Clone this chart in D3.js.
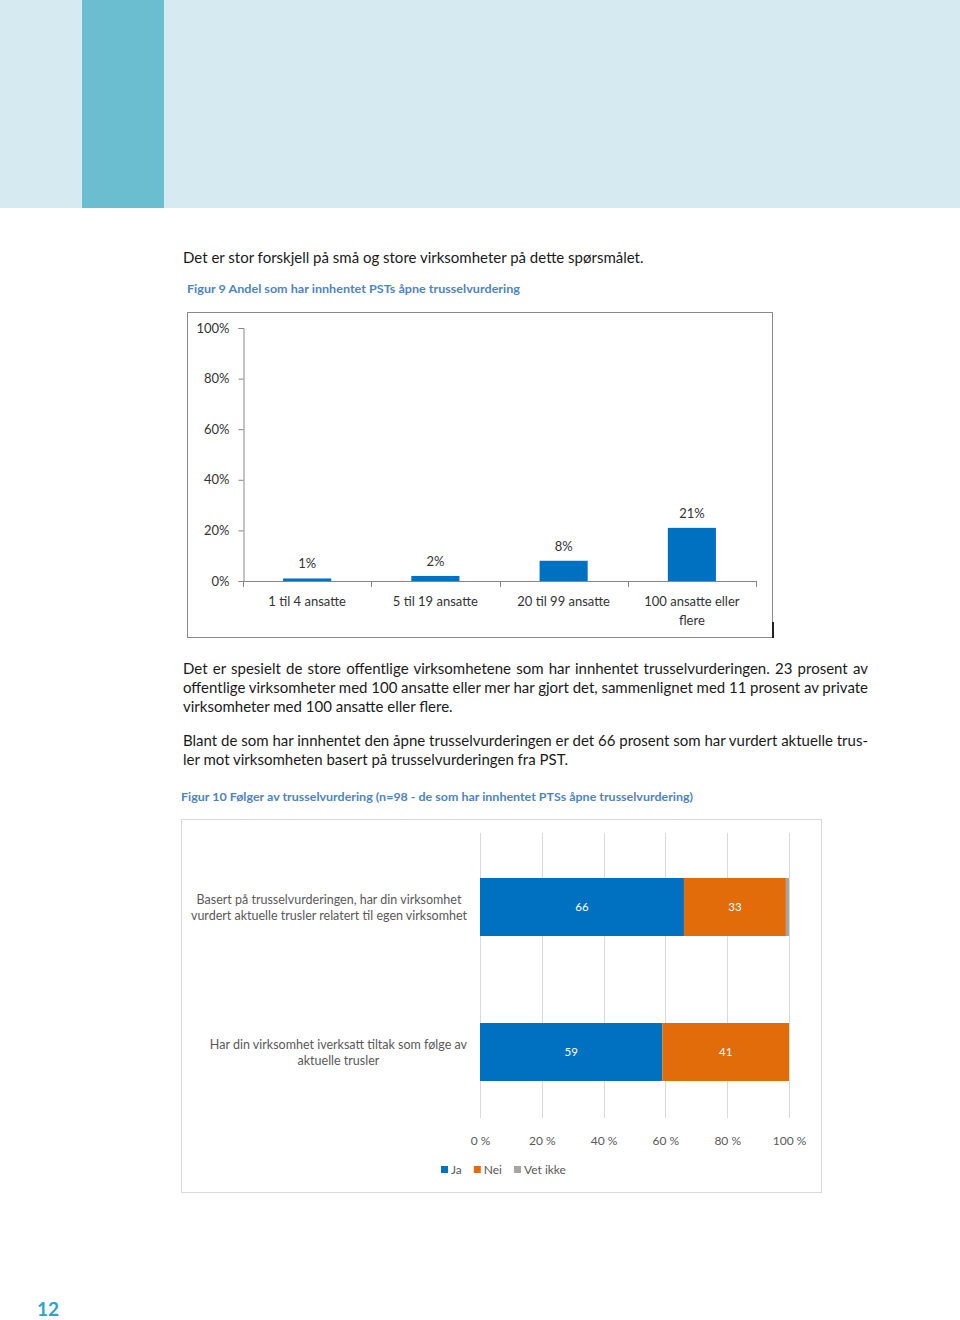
<!DOCTYPE html>
<html>
<head>
<meta charset="utf-8">
<script src="https://cdn.jsdelivr.net/npm/d3@7"></script>
<style>
  html, body { margin:0; padding:0; background:#fff; }
  #page { position:relative; width:960px; height:1320px; overflow:hidden; }
  svg { position:absolute; left:0; top:0; }
  .line { position:absolute; left:183px; width:685px; font-family:Lato, "Open Sans", sans-serif; font-size:15px; color:#1a1a1a; line-height:19px; white-space:nowrap; }
  .just { text-align:justify; text-align-last:justify; word-spacing:-1.2px; }
</style>
</head>
<body>
<div id="page"></div>
<script>
// ---------- data ----------
const c1Categories = ["1 til 4 ansatte", "5 til 19 ansatte", "20 til 99 ansatte", "100 ansatte eller flere"];
const c1Values = [1, 2, 8, 21];
const c1Ticks = [0, 20, 40, 60, 80, 100];

const c2Categories = [
  "Basert på trusselvurderingen, har din virksomhet vurdert aktuelle trusler relatert til egen virksomhet",
  "Har din virksomhet iverksatt tiltak som følge av aktuelle trusler"
];
const c2Series = ["Ja", "Nei", "Vet ikke"];
const c2Ja = [66, 59];
const c2Nei = [33, 41];
const c2VetIkke = [1, 0];
const c2Ticks = [0, 20, 40, 60, 80, 100];

const bodyLines = [
  {text:"Det er stor forskjell på små og store virksomheter på dette spørsmålet.", y:258, just:false},
  {text:"Det er spesielt de store offentlige virksomhetene som har innhentet trusselvurderingen. 23 prosent av", y:669, just:true},
  {text:"offentlige virksomheter med 100 ansatte eller mer har gjort det, sammenlignet med 11 prosent av private", y:688, just:true},
  {text:"virksomheter med 100 ansatte eller flere.", y:707, just:false},
  {text:"Blant de som har innhentet den åpne trusselvurderingen er det 66 prosent som har vurdert aktuelle trus-", y:741, just:true},
  {text:"ler mot virksomheten basert på trusselvurderingen fra PST.", y:760, just:false}
];

// ---------- page ----------
const page = d3.select("#page");
const svg = page.append("svg").attr("width", 960).attr("height", 1320);

// header band
svg.append("rect").attr("x",0).attr("y",0).attr("width",960).attr("height",208).attr("fill","#d6eaf1");
svg.append("rect").attr("x",82).attr("y",0).attr("width",82).attr("height",208).attr("fill","#6bbdd0");

// body text
bodyLines.forEach(l => {
  page.append("div").attr("class", "line" + (l.just ? " just" : ""))
    .style("top", (l.y - 10) + "px").text(l.text);
});

const chartFont = "Lato, 'Open Sans', sans-serif";
const titleColor = "#4f84c0";

// figure titles
svg.append("text").attr("x",187).attr("y",293).attr("font-family",chartFont).attr("font-weight","bold")
  .attr("font-size",11.5).attr("fill",titleColor).attr("textLength",333).attr("lengthAdjust","spacingAndGlyphs")
  .text("Figur 9 Andel som har innhentet PSTs åpne trusselvurdering");
svg.append("text").attr("x",181).attr("y",801).attr("font-family",chartFont).attr("font-weight","bold")
  .attr("font-size",11.5).attr("fill",titleColor).attr("textLength",512).attr("lengthAdjust","spacingAndGlyphs")
  .text("Figur 10 Følger av trusselvurdering (n=98 - de som har innhentet PTSs åpne trusselvurdering)");

// ---------- chart 1 ----------
svg.append("rect").attr("x",187.5).attr("y",312.5).attr("width",585).attr("height",325)
  .attr("fill","none").attr("stroke","#8a8a8a").attr("stroke-width",1);
svg.append("line").attr("x1",773).attr("x2",773).attr("y1",622).attr("y2",638)
  .attr("stroke","#222").attr("stroke-width",2);

const y1 = d3.scaleLinear().domain([0,100]).range([581,328]);
const x1 = d3.scaleBand().domain(c1Categories).range([243,756]).paddingInner(0.625).paddingOuter(0.3125);

const yAxis1 = svg.append("g").attr("transform","translate(243.5,0)")
  .call(d3.axisLeft(y1).tickValues(c1Ticks).tickFormat(d => d + "%").tickSize(5).tickPadding(9));
yAxis1.select(".domain").attr("stroke","#868686");
yAxis1.selectAll(".tick line").attr("stroke","#868686");
yAxis1.selectAll("text").attr("font-family",chartFont).attr("font-size",13).attr("fill","#333");

// x axis line with ticks at category boundaries
const step1 = x1.step();
svg.append("line").attr("x1",243).attr("x2",756).attr("y1",581.5).attr("y2",581.5).attr("stroke","#868686");
const startX1 = x1(c1Categories[0]) - (step1 - x1.bandwidth())/2;
c1Categories.concat([null]).forEach((c,i) => {
  const bx = Math.round(startX1 + i*step1) + 0.5;
  svg.append("line").attr("x1",bx).attr("x2",bx).attr("y1",581).attr("y2",587).attr("stroke","#868686");
});

svg.append("g").selectAll("rect").data(c1Values).join("rect")
  .attr("x",(d,i)=>x1(c1Categories[i])).attr("width",x1.bandwidth())
  .attr("y",d=>y1(d)).attr("height",d=>y1(0)-y1(d)).attr("fill","#0070c0");

svg.append("g").selectAll("text").data(c1Values).join("text")
  .attr("x",(d,i)=>x1(c1Categories[i]) + x1.bandwidth()/2).attr("y",d=>y1(d)-10)
  .attr("text-anchor","middle").attr("font-family",chartFont).attr("font-size",13).attr("fill","#333")
  .text(d => d + "%");

// category labels (wrap)
const c1Wrapped = {"100 ansatte eller flere": ["100 ansatte eller", "flere"]};
c1Categories.forEach(c => {
  const lines = c1Wrapped[c] || [c];
  const t = svg.append("text").attr("text-anchor","middle").attr("font-family",chartFont)
    .attr("font-size",13).attr("fill","#333");
  lines.forEach((ln,j) => {
    t.append("tspan").attr("x", x1(c) + x1.bandwidth()/2).attr("y", 606 + j*19).text(ln);
  });
});

// ---------- chart 2 ----------
svg.append("rect").attr("x",181.5).attr("y",819.5).attr("width",640).attr("height",373)
  .attr("fill","none").attr("stroke","#d9d9d9").attr("stroke-width",1);

const x2 = d3.scaleLinear().domain([0,100]).range([480,789]);
const y2 = d3.scaleBand().domain(c2Categories).range([841.75,1117.25]).paddingInner(0.6).paddingOuter(0.25);

// gridlines
svg.append("g").selectAll("line").data(c2Ticks).join("line")
  .attr("x1",d=>Math.round(x2(d))+0.5).attr("x2",d=>Math.round(x2(d))+0.5)
  .attr("y1",833).attr("y2",1118).attr("stroke","#d9d9d9");

const xAxis2 = svg.append("g").attr("transform","translate(0,1118)")
  .call(d3.axisBottom(x2).tickValues(c2Ticks).tickFormat(d => d + " %").tickSize(0).tickPadding(18));
xAxis2.select(".domain").remove();
xAxis2.selectAll("text").attr("font-family",chartFont).attr("font-size",12).attr("fill","#595959");

const stackData = c2Categories.map((c,i) => ({cat:c, Ja:c2Ja[i], Nei:c2Nei[i], "Vet ikke":c2VetIkke[i]}));
const stacked = d3.stack().keys(c2Series)(stackData);
const c2Colors = d3.scaleOrdinal().domain(c2Series).range(["#0070c0","#e36c0a","#a5a5a5"]);

stacked.forEach(s => {
  svg.append("g").selectAll("rect").data(s).join("rect")
    .attr("x",d=>x2(d[0])).attr("width",d=>x2(d[1])-x2(d[0]))
    .attr("y",d=>y2(d.data.cat)).attr("height",y2.bandwidth())
    .attr("fill",c2Colors(s.key));
  if (s.key !== "Vet ikke") {
    svg.append("g").selectAll("text").data(s).join("text")
      .attr("x",d=>(x2(d[0])+x2(d[1]))/2).attr("y",d=>y2(d.data.cat)+y2.bandwidth()/2+4)
      .attr("text-anchor","middle").attr("font-family",chartFont).attr("font-size",11.5)
      .attr("fill","#fff").text(d => d[1]-d[0]);
  }
});

// category labels (two centered lines, right edge at 467)
const c2Wrapped = [
  ["Basert på trusselvurderingen, har din virksomhet", "vurdert aktuelle trusler relatert til egen virksomhet"],
  ["Har din virksomhet iverksatt tiltak som følge av", "aktuelle trusler"]
];
c2Categories.forEach((c,i) => {
  const t = svg.append("text").attr("font-family",chartFont).attr("font-size",12.5).attr("fill","#595959")
    .attr("text-anchor","middle");
  const ts = c2Wrapped[i].map((ln,j) => t.append("tspan").attr("y", y2(c) + y2.bandwidth()/2 - 3 + j*16).text(ln));
  const maxW = d3.max(ts, s => s.node().getComputedTextLength());
  ts.forEach(s => s.attr("x", 467 - maxW/2));
});

// legend
let lx = 441;
c2Series.forEach(k => {
  svg.append("rect").attr("x",lx).attr("y",1166).attr("width",7).attr("height",7).attr("fill",c2Colors(k));
  const t = svg.append("text").attr("x",lx+10).attr("y",1174).attr("font-family",chartFont)
    .attr("font-size",12).attr("fill","#595959").text(k);
  lx += 10 + t.node().getComputedTextLength() + 12;
});

// page number
svg.append("text").attr("x",37).attr("y",1316).attr("font-family",chartFont).attr("font-weight","bold")
  .attr("font-size",19).attr("fill","#2ba5c9").text("12");
</script>
</body>
</html>
